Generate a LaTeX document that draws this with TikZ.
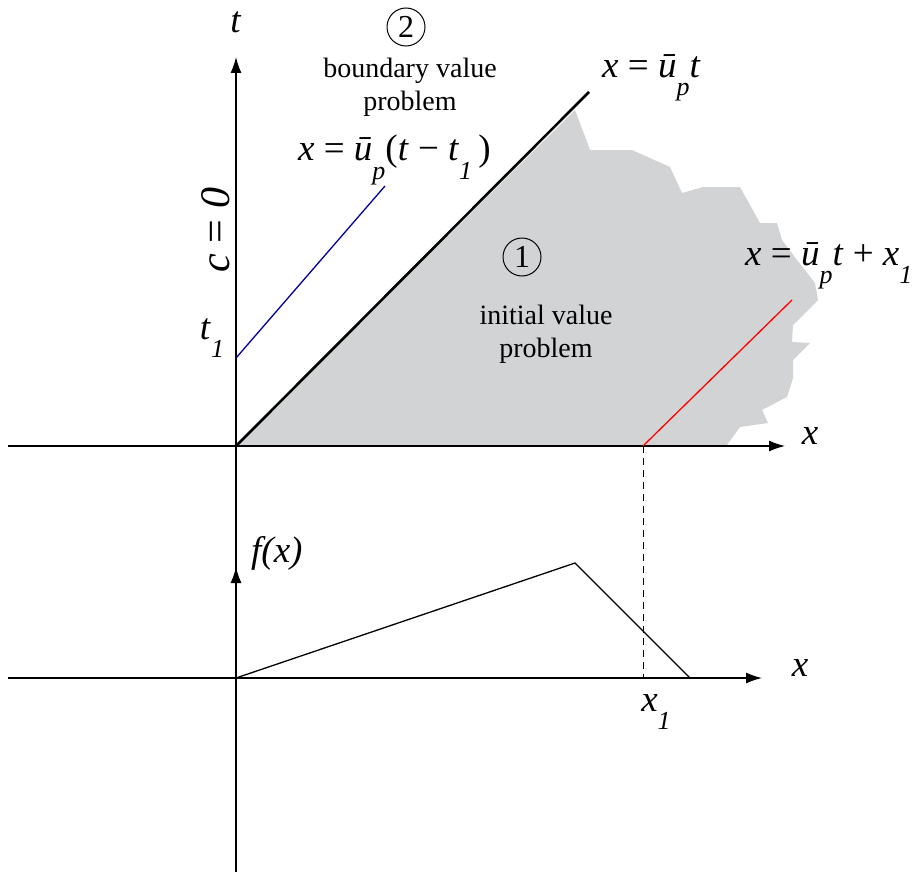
\documentclass[tikz,border=0pt]{standalone}
\usepackage{fontspec}
\setmainfont{Liberation Serif}
\usetikzlibrary{arrows.meta}
\newcommand\mi[1]{\textit{#1}}
\newcommand\lsub[1]{\raisebox{-0.5em}{\fontsize{26}{26}\selectfont\itshape #1}}
\newcommand\ubar{\textit{\=u}}
\tikzset{
  axis/.style={line width=1.3pt, -{Latex[length=16pt,width=11pt]}},
  plain/.style={line width=1.3pt},
  lab/.style={font=\fontsize{37}{40}\selectfont, inner sep=0pt},
  txt/.style={font=\fontsize{28}{33}\selectfont, align=center, inner sep=0pt},
  circ/.style={draw, circle, line width=1pt, minimum size=38pt, inner sep=0pt, font=\fontsize{32}{32}\selectfont},
}
\begin{document}
\begin{tikzpicture}[x=1pt,y=-1pt]
\useasboundingbox (0,0) rectangle (917,872);
% coordinates
\coordinate (O) at (236,446);
\coordinate (O2) at (236,678);
\coordinate (Tend) at (236,57);
\coordinate (Fend) at (236,567);
\coordinate (Bot) at (236,872);
\coordinate (XL) at (8,446);
\coordinate (XR) at (785,446);
\coordinate (XL2) at (8,678);
\coordinate (XR2) at (762,678);
\coordinate (D) at (589,92);
\coordinate (X1) at (643,446);
\coordinate (X1b) at (643,678);
\coordinate (Rend) at (792,300);
\coordinate (T1) at (236,358);
\coordinate (Bend) at (385,186);
\coordinate (Peak) at (575,563);
\coordinate (Fz) at (690,678);
% gray region
\fill[fill={rgb,255:red,209;green,211;blue,212}]
  (O) -- (575,110) -- (590,150) -- (632,150) -- (670,167) -- (682,193)
  -- (703,187) -- (740,187) -- (760,223) -- (777,223) -- (782,240)
  -- (797,260) -- (815,283) -- (818,300) -- (793,325) -- (792,342)
  -- (810,343) -- (793,360) -- (793,378) -- (787,397) -- (762,410)
  -- (768,423) -- (740,427) -- (727,445) -- cycle;
% axes
\draw[axis] (XL) -- (XR);
\draw[axis] (O) -- (Tend);
\draw[axis] (XL2) -- (XR2);
\draw[plain] (O) -- (O2);
\draw[axis] (Bot) -- (Fend);
% lines
\draw[line width=2.6pt] (O) -- (D);
\draw[red, line width=1.3pt] (X1) -- (Rend);
\draw[blue!60!black, line width=1.3pt] (T1) -- (Bend);
\draw[line width=1pt, dashed, dash pattern=on 7pt off 5pt] (X1) -- (X1b);
\draw[plain] (O2) -- (Peak) -- (Fz);
% labels
\node[lab] (tl) at (236,22) {\mi{t}};
\node[lab] (xl) at (810,436) {\mi{x}};
\node[lab] (xl2) at (800,668) {\mi{x}};
\node[lab, anchor=west] (fl) at (251,553) {\mi{f(x)}};
\node[lab, anchor=west] (l1) at (602,78) {\mi{x} = \ubar\lsub{p}\mi{t}};
\node[lab, anchor=west] (l2) at (298,160) {\mi{x} = \ubar\lsub{p}(\mi{t} − \mi{t}\lsub{1}\,)};
\node[lab, anchor=west] (l3) at (745,266) {\mi{x} = \ubar\lsub{p}\mi{t} + \mi{x}\lsub{1}};
\node[lab] (t1l) at (212,338) {\mi{t}\lsub{1}};
\node[lab] (x1l) at (656,712) {\mi{x}\lsub{1}};
\node[lab, rotate=90, font=\fontsize{42}{44}\selectfont] (c0) at (216,230) {\mi{c} = \mi{0}};
\node[circ] (c2) at (406,27) {2};
\node[txt] (bvp) at (410,87) {boundary value\\problem};
\node[circ] (c1) at (522,257) {1};
\node[txt] (ivp) at (546,334) {initial value\\problem};
\end{tikzpicture}
\end{document}
